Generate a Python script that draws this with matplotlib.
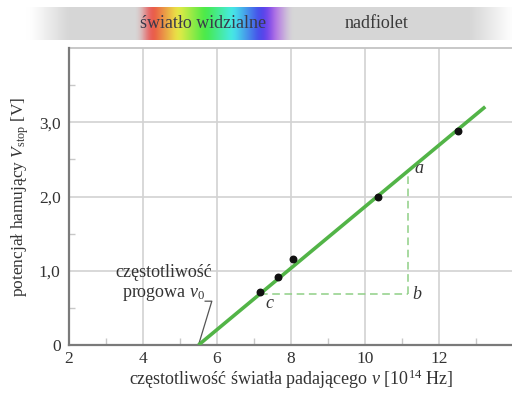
import numpy as np
import matplotlib
matplotlib.use("Agg")
import matplotlib.pyplot as plt
from matplotlib.colors import hsv_to_rgb

plt.rcParams["font.family"] = ["Liberation Serif", "DejaVu Serif"]
plt.rcParams["mathtext.fontset"] = "custom"
plt.rcParams["mathtext.rm"] = "Liberation Serif"
plt.rcParams["mathtext.it"] = "Liberation Serif:italic"

# measured points: frequency [10^14 Hz] and stopping potential [V]
freq = [7.15, 7.65, 8.05, 10.35, 12.5]
v_stop = [0.71, 0.91, 1.16, 2.0, 2.88]

# fitted line: threshold frequency and slope h/e
nu0 = 5.5
slope = 0.414
nu_end = 13.25

# slope triangle corners
nu_c, nu_b = 7.15, 11.15

x_ticks = [2, 4, 6, 8, 10, 12]
y_ticks = [0, 1, 2, 3]
y_tick_labels = ["0", "1,0", "2,0", "3,0"]

GREEN = "#52b447"
GRID = "#d2d2d2"
AXIS = "#7a7a7a"
TEXT = "#333333"

fig = plt.figure(figsize=(5.12, 3.95), dpi=100)

# spectrum band along the top
band = fig.add_axes([0, 1 - 40 / 395, 1, 33 / 395])
W = 512
white = np.array([1.0, 1.0, 1.0])
gray = np.array([0.84, 0.84, 0.84])
img = np.ones((1, W, 3))
for i in range(W):
    c = gray.copy()
    if i < 30:
        c = white.copy()
    elif i < 68:
        t = (i - 30) / 38
        c = (1 - t) * white + t * gray
    elif i > 470:
        t = min((i - 470) / 42, 1.0)
        c = (1 - t) * gray + t * white
    if 138 <= i <= 290:
        h = np.clip((i - 150) / 125, 0, 1) * 0.76
        rgb = hsv_to_rgb([h, 0.7, 0.92])
        if i < 152:
            w = (i - 138) / 14
        elif i > 268:
            w = max(0.0, (290 - i) / 22)
        else:
            w = 1.0
        c = (1 - w) * c + w * rgb
    img[0, i] = c
# soften the band horizontally
k = np.ones(9) / 9
for ch in range(3):
    row = np.pad(img[0, :, ch], 4, mode="edge")
    img[0, :, ch] = np.convolve(row, k, mode="valid")
band.imshow(img, aspect="auto", extent=(0, W, 0, 1), interpolation="bilinear")
band.set_xlim(0, W)
band.set_ylim(0, 1)
band.axis("off")
band.text(203, 0.5, "światło widzialne", ha="center", va="center",
          fontsize=13, color="#3a3a4a")
band.text(377, 0.5, "nadfiolet", ha="center", va="center",
          fontsize=13, color="#3a3a3a")

# main axes
ax = fig.add_axes([69 / 512, 50 / 395, 444 / 512, 297 / 395])
ax.set_xlim(2, 14)
ax.set_ylim(0, 4)

ax.set_xticks(x_ticks)
ax.set_xticklabels([str(t) for t in x_ticks])
ax.set_yticks(y_ticks)
ax.set_yticklabels(y_tick_labels)
ax.set_xticks(np.arange(3, 14, 1), minor=True)
ax.set_yticks(np.arange(0.5, 4, 1), minor=True)
ax.tick_params(axis="both", which="major", length=0, labelsize=12.5,
               labelcolor=TEXT)
ax.tick_params(axis="x", which="major", pad=4)
ax.tick_params(axis="y", which="major", pad=6)
ax.tick_params(axis="both", which="minor", direction="in", length=4,
               color="#c8c8c8", width=1)
ax.tick_params(axis="x", which="minor", length=5)

for v in [4, 6, 8, 10, 12]:
    ax.axvline(v, color=GRID, lw=1.2, zorder=0)
for v in [1, 2, 3]:
    ax.axhline(v, color=GRID, lw=1.2, zorder=0)
# top border line of the plotting area
ax.plot([2, 14], [4, 4], color="#c4c4c4", lw=1.3, zorder=1, clip_on=False)

for s in ["top", "right"]:
    ax.spines[s].set_visible(False)
for s in ["left", "bottom"]:
    ax.spines[s].set_color(AXIS)
    ax.spines[s].set_linewidth(1.6)

# fitted line
xs = np.array([nu0, nu_end])
ax.plot(xs, slope * (xs - nu0), color=GREEN, lw=2.6, zorder=3,
        solid_capstyle="butt")

# slope triangle
v_c = slope * (nu_c - nu0)
v_a = slope * (nu_b - nu0)
ax.plot([nu_c, nu_b], [v_c, v_c], color="#8fcf86", lw=1.1, ls=(0, (5, 3)), zorder=2)
ax.plot([nu_b, nu_b], [v_c, v_a], color="#8fcf86", lw=1.1, ls=(0, (5, 3)), zorder=2)

# data points
ax.scatter(freq, v_stop, s=22, color="#111111", zorder=4)

ax.text(nu_b + 0.2, v_a + 0.04, "a", fontsize=13, style="italic",
        color=TEXT, ha="left", va="center")
ax.text(nu_b + 0.12, v_c, "b", fontsize=13, style="italic",
        color=TEXT, ha="left", va="center")
ax.text(nu_c + 0.15, v_c - 0.12, "c", fontsize=13, style="italic",
        color=TEXT, ha="left", va="center")

# threshold frequency note
ax.text(4.55, 0.83, "częstotliwość\nprogowa $v_0$", fontsize=13, color=TEXT,
        ha="center", va="center", linespacing=1.2)
ax.plot([5.68, 5.86, nu0], [0.59, 0.59, 0.0], color="#555555", lw=0.9,
        zorder=2, clip_on=False)

ax.set_xlabel("częstotliwość światła padającego $v$ [10$^{14}$ Hz]",
              fontsize=13, color=TEXT, labelpad=1)
ax.set_ylabel("potencjał hamujący $V_{\\mathrm{stop}}$ [V]",
              fontsize=12.5, color=TEXT, labelpad=6)

fig.savefig("out.png", dpi=100, facecolor="white")
